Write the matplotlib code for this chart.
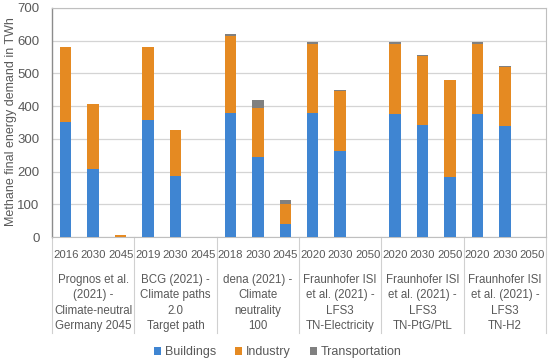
import matplotlib
matplotlib.use("Agg")
import matplotlib.pyplot as plt
import matplotlib.transforms as mtransforms
import numpy as np

plt.rcParams['font.family'] = ['Liberation Sans', 'DejaVu Sans']

years = ["2016", "2030", "2045", "2019", "2030", "2045", "2018", "2030", "2045",
         "2020", "2030", "2050", "2020", "2030", "2050", "2020", "2030", "2050"]
groups = ["Prognos et al.\n(2021) -\nClimate-neutral\nGermany 2045",
          "BCG (2021) -\nClimate paths\n2.0\nTarget path",
          "dena (2021) -\nClimate\nneutrality\n100",
          "Fraunhofer ISI\net al. (2021) -\nLFS3\nTN-Electricity",
          "Fraunhofer ISI\net al. (2021) -\nLFS3\nTN-PtG/PtL",
          "Fraunhofer ISI\net al. (2021) -\nLFS3\nTN-H2"]
buildings = [352, 208, 0, 358, 186, 0, 380, 245, 40,
             378, 262, 0, 377, 342, 184, 377, 340, 0]
industry = [228, 199, 5, 222, 141, 0, 235, 148, 62,
            212, 185, 0, 212, 211, 296, 212, 181, 0]
transportation = [2, 0, 0, 0, 0, 0, 4, 26, 10,
                  7, 3, 0, 8, 3, 0, 8, 2, 0]

c_build = '#3F85D2'
c_ind = '#E58A22'
c_trans = '#808080'
txt = '#595959'

fig = plt.figure(figsize=(5.5, 3.61), dpi=100)
ax = fig.add_axes([52/550, 1-237/361, (546-52)/550, (237-8)/361])

x = np.arange(len(years))
b = np.array(buildings, float)
i = np.array(industry, float)
t = np.array(transportation, float)
w = 0.42
ax.bar(x, b, w, color=c_build, label='Buildings', zorder=3)
ax.bar(x, i, w, bottom=b, color=c_ind, label='Industry', zorder=3)
ax.bar(x, t, w, bottom=b+i, color=c_trans, label='Transportation', zorder=3)

ax.set_xlim(-0.5, len(years)-0.5)
ax.set_ylim(0, 700)
ax.set_yticks(np.arange(0, 701, 100))
ax.yaxis.grid(True, color='#D4D4D4', linewidth=0.9, zorder=0)
ax.tick_params(axis='y', length=0, pad=9, labelsize=9.5, labelcolor=txt)
ax.set_xticks(x)
ax.set_xticklabels(years)
ax.tick_params(axis='x', length=0, pad=9, labelsize=8.2, labelcolor=txt)
for s in ['top', 'right', 'bottom']:
    ax.spines[s].set_color('#BFBFBF')
    ax.spines[s].set_linewidth(0.8)
ax.spines['left'].set_color('#8C8C8C')
ax.spines['left'].set_linewidth(1.0)

fig.text(11/550, 1-122/361, 'Methane final energy demand in TWh', rotation=90,
         ha='center', va='center', fontsize=9, color=txt)

trans = mtransforms.blended_transform_factory(ax.transData, ax.transAxes)
ybot = -(333-237)/229
for k in range(len(groups)+1):
    xb = -0.5 + 3*k
    ax.plot([xb, xb], [0, ybot], transform=trans, color='#D0D0D0', lw=0.8, clip_on=False)
for k, g in enumerate(groups):
    ax.text(3*k+1, -(274-237)/229, g, transform=trans, ha='center', va='top',
            fontsize=8.3, color=txt, linespacing=1.38)

fig.legend(loc='center', bbox_to_anchor=(0.505, 1-352/361), ncol=3, frameon=False,
           fontsize=9, handlelength=0.6, handleheight=0.6, handletextpad=0.3,
           columnspacing=1.5, labelcolor=txt)

fig.savefig('out.png', dpi=100)
